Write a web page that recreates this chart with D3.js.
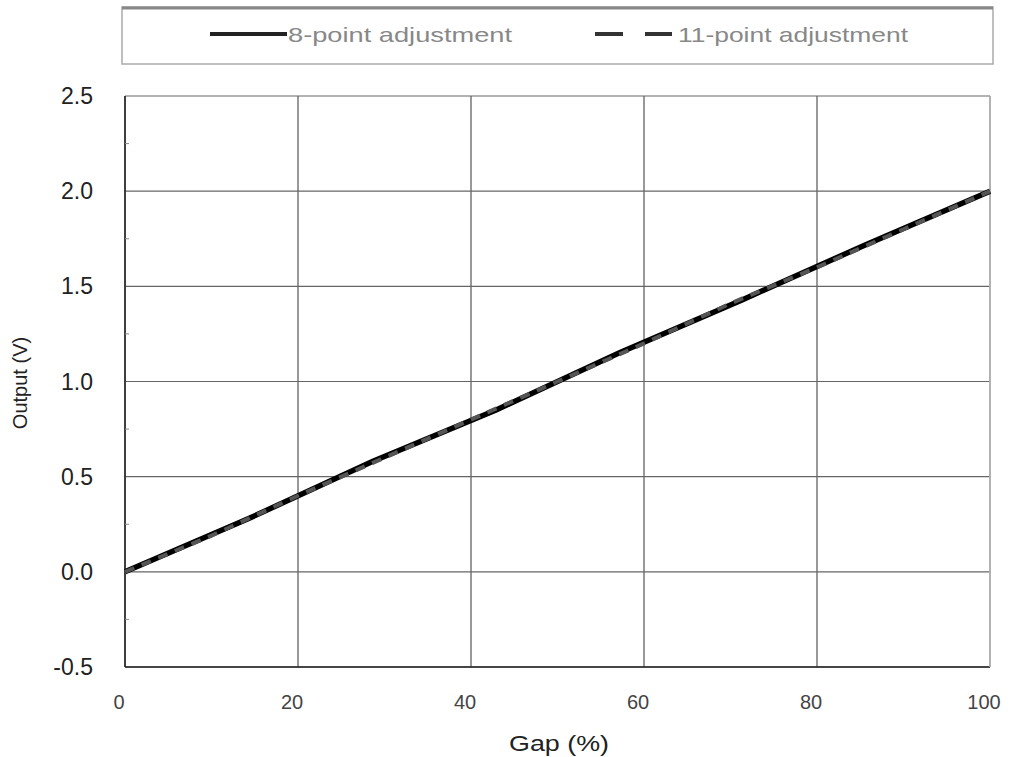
<!DOCTYPE html>
<html>
<head>
<meta charset="utf-8">
<script src="https://cdn.jsdelivr.net/npm/d3@7"></script>
<style>
  body { margin: 0; background: #fff; }
  svg { font-family: "Liberation Sans", Arial, sans-serif; }
</style>
</head>
<body>
<div id="chart"></div>
<script>
// datos
var seriesNames = ["8-point adjustment", "11-point adjustment"];
var gap8 = [0, 14.3, 28.6, 42.9, 57.1, 71.4, 85.7, 100];
var out8 = [0, 0.28, 0.58, 0.85, 1.15, 1.43, 1.72, 2.0];
var gap11 = [0, 10, 20, 30, 40, 50, 60, 70, 80, 90, 100];
var out11 = [0, 0.19, 0.40, 0.60, 0.80, 1.00, 1.20, 1.41, 1.60, 1.80, 2.00];
var xTicks = [0, 20, 40, 60, 80, 100];
var yTicks = [-0.5, 0, 0.5, 1.0, 1.5, 2.0, 2.5];

var width = 1011, height = 757;
var margin = { top: 96, right: 21, bottom: 90, left: 125 };

var svg = d3.select("#chart").append("svg")
  .attr("width", width)
  .attr("height", height);

var escalaX = d3.scaleLinear().domain([0, 100]).range([margin.left, width - margin.right]);
var escalaY = d3.scaleLinear().domain([-0.5, 2.5]).range([height - margin.bottom, margin.top]);

// grilla
svg.append("g").selectAll("line").data(xTicks).enter().append("line")
  .attr("x1", d => escalaX(d)).attr("x2", d => escalaX(d))
  .attr("y1", escalaY(2.5)).attr("y2", escalaY(-0.5))
  .attr("stroke", "#555").attr("stroke-width", 1.2);
svg.append("g").selectAll("line").data(yTicks).enter().append("line")
  .attr("x1", escalaX(0)).attr("x2", escalaX(100))
  .attr("y1", d => escalaY(d)).attr("y2", d => escalaY(d))
  .attr("stroke", "#666").attr("stroke-width", 1.2);

// marco
svg.append("line")
  .attr("x1", escalaX(0)).attr("x2", escalaX(0))
  .attr("y1", escalaY(2.5)).attr("y2", escalaY(-0.5))
  .attr("stroke", "#222").attr("stroke-width", 1.5);
svg.append("line")
  .attr("x1", escalaX(0)).attr("x2", escalaX(100))
  .attr("y1", escalaY(-0.5)).attr("y2", escalaY(-0.5))
  .attr("stroke", "#222").attr("stroke-width", 1.5);
svg.append("line")
  .attr("x1", escalaX(100)).attr("x2", escalaX(100))
  .attr("y1", escalaY(2.5)).attr("y2", escalaY(-0.5))
  .attr("stroke", "#bbb").attr("stroke-width", 1.5);

// ticks menores eje Y
var minorY = d3.range(-0.25, 2.5, 0.5);
svg.append("g").selectAll("line").data(minorY).enter().append("line")
  .attr("x1", escalaX(0)).attr("x2", escalaX(0) + 4)
  .attr("y1", d => escalaY(d)).attr("y2", d => escalaY(d))
  .attr("stroke", "#888");

// etiquetas de ticks
svg.append("g").selectAll("text").data(yTicks).enter().append("text")
  .attr("x", 93).attr("y", d => escalaY(d) + 8)
  .attr("text-anchor", "end")
  .style("font-size", "23px").style("fill", "#222")
  .text(d => d.toFixed(1));

svg.append("g").selectAll("text").data(xTicks).enter().append("text")
  .attr("x", d => escalaX(d) - 6).attr("y", 709)
  .attr("text-anchor", "middle")
  .style("font-size", "20px").style("fill", "#444")
  .text(d => d);

// titulos de ejes
svg.append("text")
  .attr("x", 509).attr("y", 751)
  .attr("textLength", 100).attr("lengthAdjust", "spacingAndGlyphs")
  .style("font-size", "22px").style("fill", "#222")
  .text("Gap (%)");
svg.append("text")
  .attr("transform", "translate(27," + 383 + ") rotate(-90)")
  .attr("text-anchor", "middle")
  .style("font-size", "20px").style("fill", "#222")
  .text("Output (V)");

// lineas
var line = d3.line()
  .x(d => escalaX(d[0]))
  .y(d => escalaY(d[1]));

svg.append("path")
  .datum(gap8.map((g, i) => [g, out8[i]]))
  .attr("fill", "none").attr("stroke", "#000").attr("stroke-width", 5.5)
  .attr("d", line);

svg.append("path")
  .datum(gap11.map((g, i) => [g, out11[i]]))
  .attr("fill", "none").attr("stroke", "#555").attr("stroke-width", 4)
  .attr("stroke-dasharray", "10,8")
  .attr("d", line);

// leyenda
svg.append("rect")
  .attr("x", 122).attr("y", 7).attr("width", 871).attr("height", 57)
  .attr("fill", "#fff").attr("stroke", "#aaa").attr("stroke-width", 1.5);
svg.append("line")
  .attr("x1", 122).attr("x2", 993).attr("y1", 8).attr("y2", 8)
  .attr("stroke", "#888").attr("stroke-width", 3);

svg.append("line")
  .attr("x1", 210).attr("x2", 287).attr("y1", 34).attr("y2", 34)
  .attr("stroke", "#222").attr("stroke-width", 4);
svg.append("text")
  .attr("x", 288).attr("y", 42)
  .attr("textLength", 224).attr("lengthAdjust", "spacingAndGlyphs")
  .style("font-size", "21px").style("fill", "#888")
  .text(seriesNames[0]);

svg.append("line")
  .attr("x1", 595).attr("x2", 672).attr("y1", 34).attr("y2", 34)
  .attr("stroke", "#333").attr("stroke-width", 4)
  .attr("stroke-dasharray", "28,22");
svg.append("text")
  .attr("x", 678).attr("y", 42)
  .attr("textLength", 230).attr("lengthAdjust", "spacingAndGlyphs")
  .style("font-size", "21px").style("fill", "#888")
  .text(seriesNames[1]);
</script>
</body>
</html>
